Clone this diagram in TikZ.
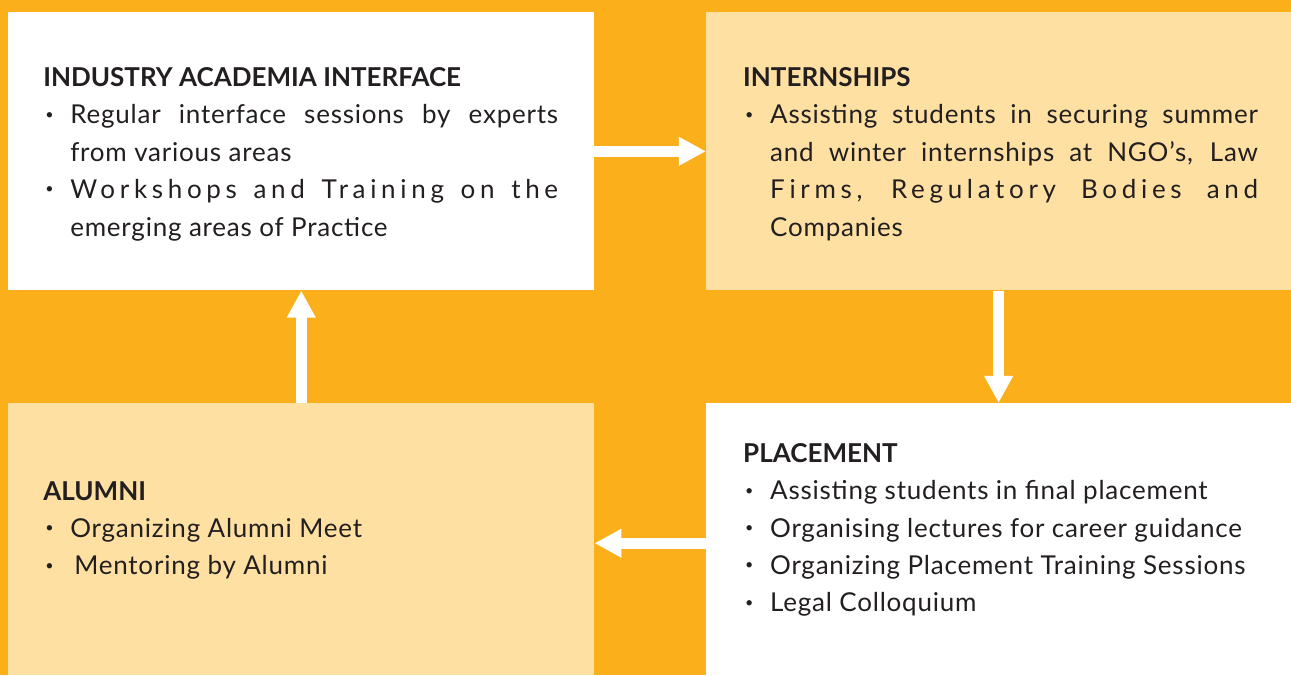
\documentclass[tikz,border=0pt]{standalone}
\usepackage{fontspec}
\setmainfont[LetterSpace=3]{Lato}
\usepackage{graphicx}
\usetikzlibrary{arrows.meta}
\definecolor{sunorange}{HTML}{FAAF1B}
\definecolor{paleyellow}{HTML}{FEE0A2}
\definecolor{ink}{HTML}{231F20}
% heading, bullet and justified lines
\newcommand{\hdr}[1]{\textbf{\addfontfeature{LetterSpace=0}#1}}
\newcommand{\itm}{\makebox[0.54cm][l]{\hspace{0.04cm}\raisebox{0.18em}{\scalebox{0.55}{\textbullet}}}}
\newcommand{\fullline}[1]{\makebox[9.76cm][s]{#1}}
\newcommand{\wideline}[1]{\makebox[9.76cm][s]{\addfontfeature{LetterSpace=18}#1}}

\begin{document}
\begin{tikzpicture}[x=0.02cm,y=-0.02cm,
  panel/.style={rectangle,inner sep=0,anchor=north west,minimum width=11.7cm},
  flow/.style={draw=white,line width=0.22cm,-{Triangle[length=0.54cm,width=0.54cm]}},
  txt/.style={inner sep=0,anchor=north west,align=left,text=ink,
    font=\fontsize{14.8}{21.3}\selectfont}]
  %
  % Background
  \fill[sunorange] (0,0) rectangle (1291,675);
  %
  % Panels
  \node[panel,fill=white,minimum width=11.72cm,minimum height=5.56cm] (iai) at (8,12) {};
  \node[panel,fill=paleyellow,minimum height=5.56cm] (intern) at (706,12) {};
  \node[panel,fill=paleyellow,minimum width=11.72cm,minimum height=5.44cm] (alumni) at (8,403) {};
  \node[panel,fill=white,minimum height=5.44cm] (place) at (706,403) {};
  %
  % Arrows
  \draw[flow] (iai.east) -- (intern.west);
  \draw[flow] (intern.south) -- (place.north);
  \draw[flow] ([yshift=-0.08cm]place.west) -- ([yshift=-0.08cm]alumni.east);
  \draw[flow] (alumni.north) -- (iai.south);
  %
  % Texts
  \node[txt] (iaitxt) at (43,67) {\hdr{INDUSTRY ACADEMIA INTERFACE}\\
    \itm\fullline{Regular interface sessions by experts}\\
    \hspace*{0.54cm}from various areas\\
    \itm\wideline{Workshops and Training on the}\\
    \hspace*{0.54cm}emerging areas of Practice};
  \node[txt] (interntxt) at (743,67) {\hdr{INTERNSHIPS}\\
    \itm\fullline{Assisting students in securing summer}\\
    \hspace*{0.54cm}\fullline{and winter internships at NGO’s, Law}\\
    \hspace*{0.54cm}\wideline{Firms, Regulatory Bodies and}\\
    \hspace*{0.54cm}Companies};
  \node[txt] (placetxt) at (743,443) {\hdr{PLACEMENT}\\
    \itm Assisting students in final placement\\
    \itm Organising lectures for career guidance\\
    \itm Organizing Placement Training Sessions\\
    \itm Legal Colloquium};
  \node[txt] (alumnitxt) at (43,481) {\hdr{ALUMNI}\\
    \itm Organizing Alumni Meet\\
    \itm\hspace{0.08cm}Mentoring by Alumni};
  %
\end{tikzpicture}
\end{document}
